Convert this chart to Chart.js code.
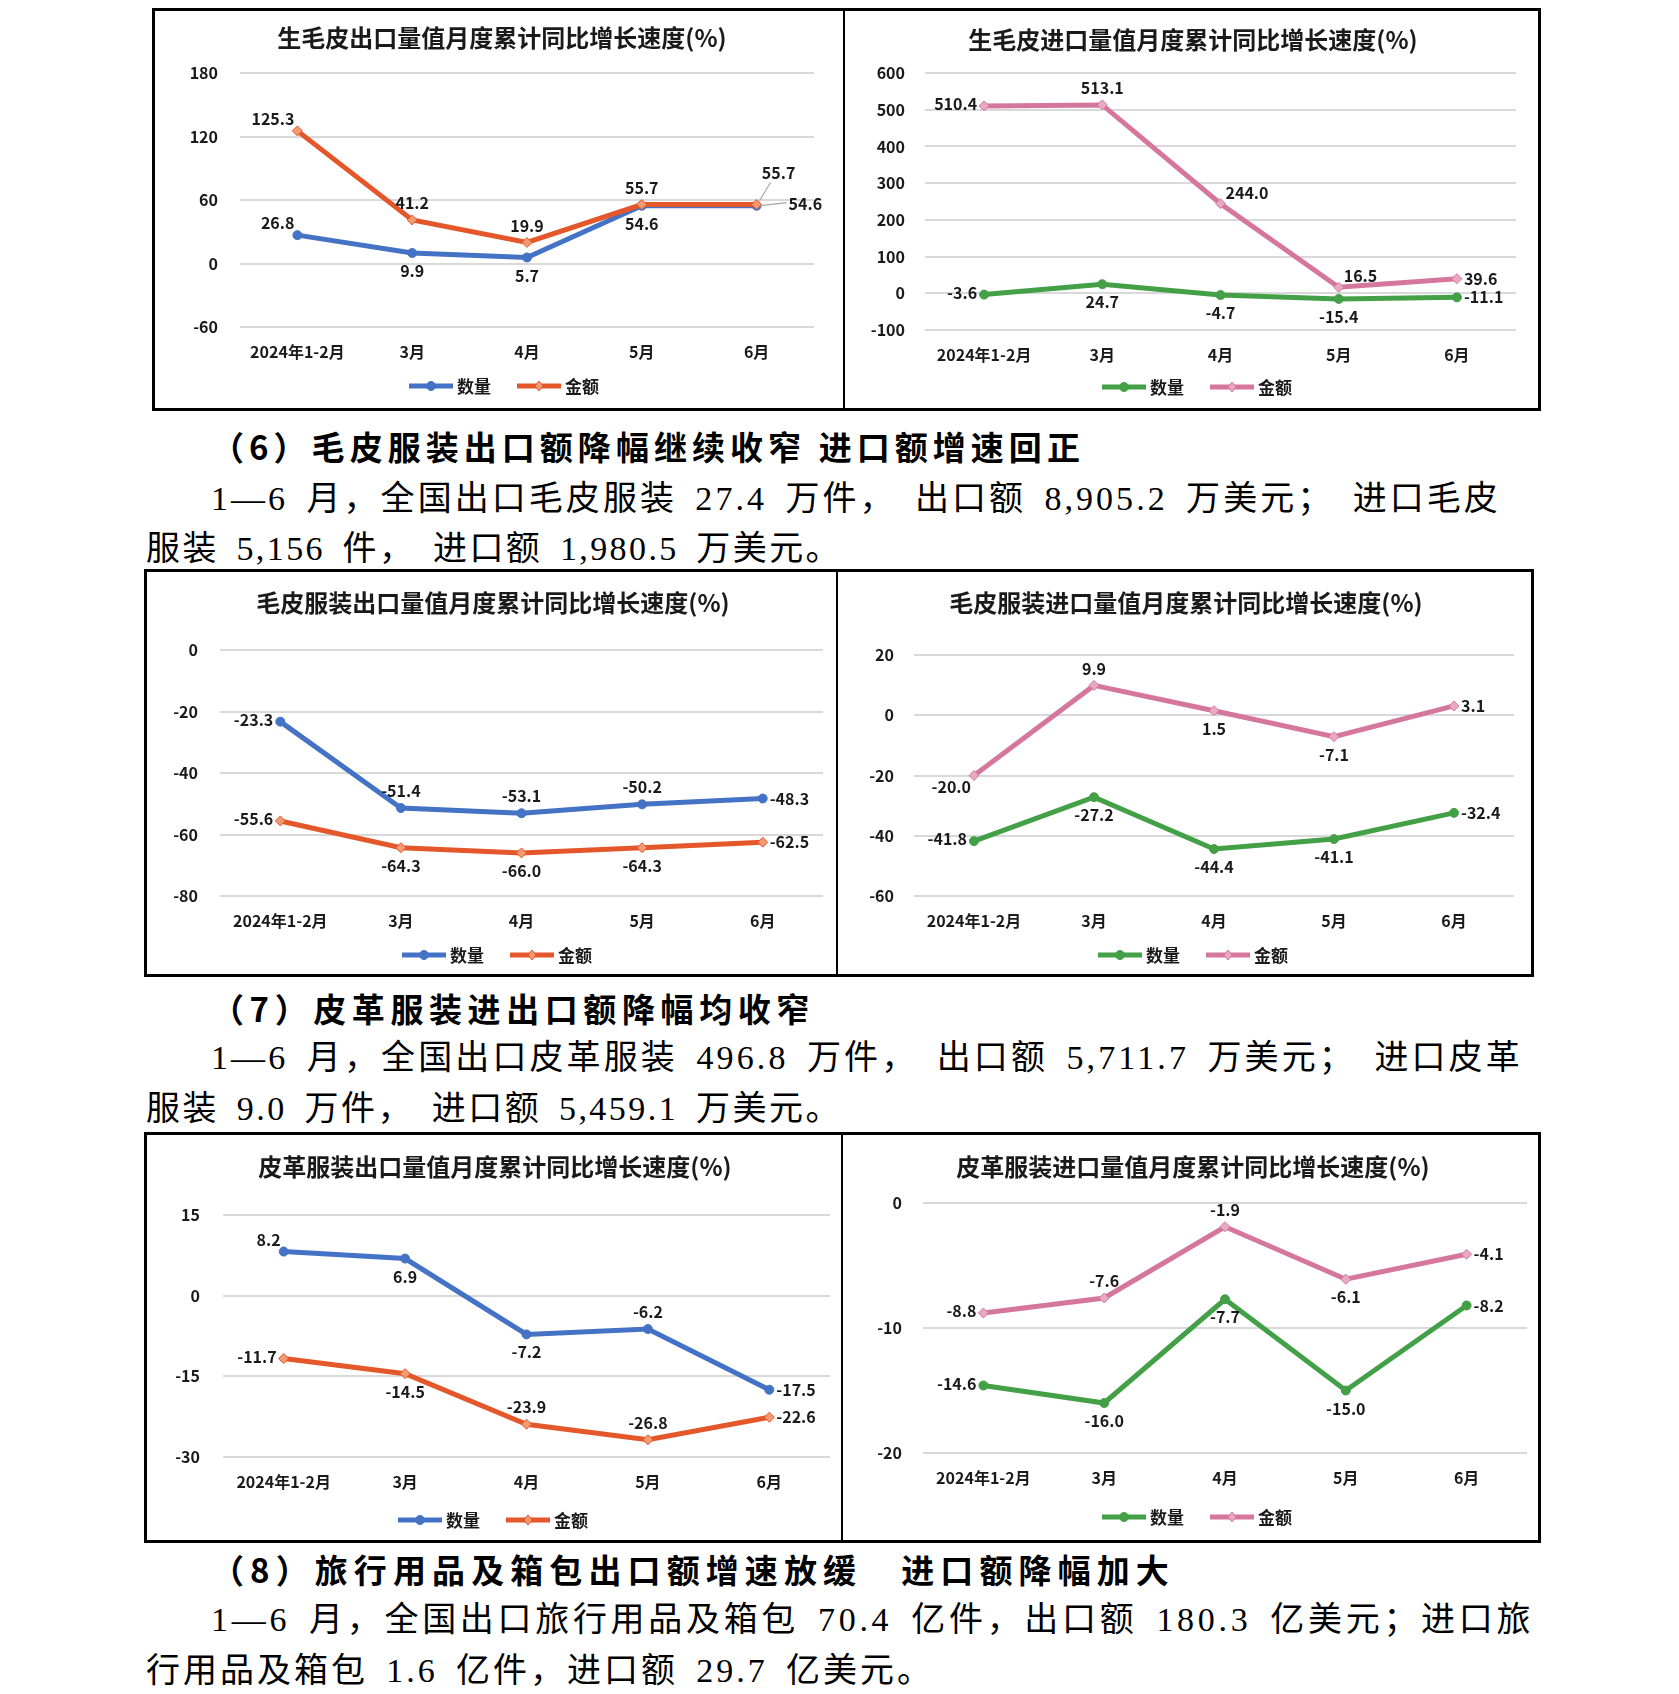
<!DOCTYPE html>
<html lang="zh-CN">
<head>
<meta charset="utf-8">
<title>毛皮及皮革服装进出口同比增长速度</title>
<script src="https://cdn.jsdelivr.net/npm/chart.js@4.4.1/dist/chart.umd.min.js"></script>
<style>
  html, body { margin: 0; padding: 0; background: #fff; }
  body { position: relative; width: 1679px; height: 1694px; overflow: hidden; }
  .box { position: absolute; box-sizing: border-box; border: 3px solid #000; }
  .divider { position: absolute; width: 2px; background: #000; }
  canvas { position: absolute; }
  .line {
    position: absolute; white-space: nowrap; color: #000;
    font-family: "Liberation Serif", "Noto Sans CJK SC", serif;
    font-size: 34px; line-height: 40px; word-spacing: 0.2em;
  }
  .line.head { font-family: "Noto Sans CJK SC", sans-serif; font-weight: 700; font-size: 33px; word-spacing: 0; }
</style>
</head>
<body>

<div class="box" style="left:152px;top:8px;width:1389px;height:403px"></div>
<div class="divider" style="left:843px;top:8px;height:403px"></div>
<div class="box" style="left:144px;top:569px;width:1390px;height:408px"></div>
<div class="divider" style="left:836px;top:569px;height:408px"></div>
<div class="box" style="left:144px;top:1132px;width:1397px;height:411px"></div>
<div class="divider" style="left:841px;top:1132px;height:411px"></div>

<canvas id="c1" width="688" height="397" style="left:155px;top:11px"></canvas>
<canvas id="c2" width="692" height="397" style="left:846px;top:11px"></canvas>
<canvas id="c3" width="689" height="402" style="left:147px;top:572px"></canvas>
<canvas id="c4" width="692" height="402" style="left:839px;top:572px"></canvas>
<canvas id="c5" width="694" height="405" style="left:147px;top:1135px"></canvas>
<canvas id="c6" width="694" height="405" style="left:844px;top:1135px"></canvas>

<div class="line head" data-w="874" style="left:211px;top:426px">（6）毛皮服装出口额降幅继续收窄 进口额增速回正</div>
<div class="line" data-w="1290" style="left:211px;top:479px">1—6 月，全国出口毛皮服装 27.4 万件， 出口额 8,905.2 万美元； 进口毛皮</div>
<div class="line" data-w="696" style="left:146px;top:529px">服装 5,156 件， 进口额 1,980.5 万美元。</div>

<div class="line head" data-w="604" style="left:211px;top:988px">（7）皮革服装进出口额降幅均收窄</div>
<div class="line" data-w="1312" style="left:211px;top:1038px">1—6 月，全国出口皮革服装 496.8 万件， 出口额 5,711.7 万美元； 进口皮革</div>
<div class="line" data-w="696" style="left:146px;top:1089px">服装 9.0 万件， 进口额 5,459.1 万美元。</div>

<div class="line head" data-w="964" style="left:211px;top:1549px">（8）旅行用品及箱包出口额增速放缓　进口额降幅加大</div>
<div class="line" data-w="1323" style="left:211px;top:1600px">1—6 月，全国出口旅行用品及箱包 70.4 亿件，出口额 180.3 亿美元；进口旅</div>
<div class="line" data-w="788" style="left:146px;top:1651px">行用品及箱包 1.6 亿件，进口额 29.7 亿美元。</div>

<script>
// 月份（累计）
const months = ["2024年1-2月", "3月", "4月", "5月", "6月"];
const seriesNames = ["数量", "金额"];

// 生毛皮 出口 / 进口
const rawFurExportQty = [26.8, 9.9, 5.7, 54.6, 54.6];
const rawFurExportVal = [125.3, 41.2, 19.9, 55.7, 55.7];
const rawFurImportQty = [-3.6, 24.7, -4.7, -15.4, -11.1];
const rawFurImportVal = [510.4, 513.1, 244.0, 16.5, 39.6];

// 毛皮服装 出口 / 进口
const furWearExportQty = [-23.3, -51.4, -53.1, -50.2, -48.3];
const furWearExportVal = [-55.6, -64.3, -66.0, -64.3, -62.5];
const furWearImportQty = [-41.8, -27.2, -44.4, -41.1, -32.4];
const furWearImportVal = [-20.0, 9.9, 1.5, -7.1, 3.1];

// 皮革服装 出口 / 进口
const leatherExportQty = [8.2, 6.9, -7.2, -6.2, -17.5];
const leatherExportVal = [-11.7, -14.5, -23.9, -26.8, -22.6];
const leatherImportQty = [-14.6, -16.0, -7.7, -15.0, -8.2];
const leatherImportVal = [-8.8, -7.6, -1.9, -6.1, -4.1];

// y 轴刻度 [min, max, step]
const yRange1 = [-60, 180, 60];
const yRange2 = [-100, 600, 100];
const yRange3 = [-80, 0, 20];
const yRange4 = [-60, 20, 20];
const yRange5 = [-30, 15, 15];
const yRange6 = [-20, 0, 10];

// 正文每行按原文排版宽度撑开字距
document.querySelectorAll(".line").forEach((el) => {
  const target = parseFloat(el.dataset.w);
  const n = [...el.textContent].length;
  el.style.letterSpacing = ((target - el.getBoundingClientRect().width) / n).toFixed(2) + "px";
});

const FONT = '"Noto Sans CJK SC", "Noto Sans", sans-serif';
const BLUE = "#4472C4", ORANGE = "#E4572A", GREEN = "#43A047", PINK = "#D5779D";
const TINT = { [BLUE]: "#4472C4", [ORANGE]: "#F29B73", [GREEN]: "#43A047", [PINK]: "#E8A9C2" };

// 数据标签相对数据点的位置
const LABEL_POS = {
  t:  { dx: 0,  dy: -17, align: "center" },
  b:  { dx: 0,  dy: 18,  align: "center" },
  l:  { dx: -7, dy: -2,  align: "right" },
  r:  { dx: 7,  dy: 0,   align: "left" },
  tl: { dx: -3, dy: -12, align: "right" },
  tr: { dx: 5,  dy: -11, align: "left" },
  bl: { dx: -3, dy: 11,  align: "right" },
  ld: { dx: 22, dy: -32, align: "center", leader: [3, -4, 14, -22] },
  rd: { dx: 32, dy: -2,  align: "left", leader: [4, 0, 30, -3] },
};

const valueLabels = {
  id: "valueLabels",
  afterDatasetsDraw(chart, args, opts) {
    const ctx = chart.ctx;
    ctx.save();
    ctx.font = "bold 16px " + FONT;
    ctx.textBaseline = "middle";
    chart.data.datasets.forEach((ds, i) => {
      const meta = chart.getDatasetMeta(i);
      meta.data.forEach((pt, j) => {
        const p = LABEL_POS[opts.pos[i][j]];
        if (p.leader) {
          ctx.strokeStyle = "#A6A6A6";
          ctx.lineWidth = 1.2;
          ctx.beginPath();
          ctx.moveTo(pt.x + p.leader[0], pt.y + p.leader[1]);
          ctx.lineTo(pt.x + p.leader[2], pt.y + p.leader[3]);
          ctx.stroke();
        }
        ctx.fillStyle = "#1A1A1A";
        ctx.textAlign = p.align;
        ctx.fillText(ds.data[j].toFixed(1), pt.x + p.dx, pt.y + p.dy);
      });
    });
    ctx.restore();
  },
};

// 标题与图例（固定位置）
const frame = {
  id: "frame",
  afterDraw(chart, args, opts) {
    const ctx = chart.ctx;
    ctx.save();
    ctx.fillStyle = "#1A1A1A";
    ctx.textAlign = "center";
    ctx.textBaseline = "middle";
    ctx.font = "bold 24px " + FONT;
    ctx.fillText(opts.title, opts.titleX, opts.titleY);

    ctx.font = "bold 17px " + FONT;
    const sample = 44, gap = 4, between = 26;
    const items = chart.data.datasets.map((ds) => ({ ds, w: sample + gap + ctx.measureText(ds.label).width }));
    const total = items.reduce((s, it) => s + it.w, 0) + between * (items.length - 1);
    let x = opts.legendX - total / 2;
    const y = opts.legendY;
    items.forEach(({ ds, w }) => {
      ctx.strokeStyle = ds.borderColor;
      ctx.lineWidth = 5;
      ctx.beginPath();
      ctx.moveTo(x, y);
      ctx.lineTo(x + sample, y);
      ctx.stroke();
      ctx.fillStyle = ds.pointBackgroundColor;
      ctx.strokeStyle = ds.borderColor;
      ctx.lineWidth = 1;
      const cx = x + sample / 2;
      ctx.beginPath();
      if (ds.pointStyle === "circle") {
        ctx.arc(cx, y, 4.5, 0, Math.PI * 2);
      } else {
        ctx.moveTo(cx, y - 5); ctx.lineTo(cx + 4, y); ctx.lineTo(cx, y + 5); ctx.lineTo(cx - 4, y); ctx.closePath();
      }
      ctx.fill();
      ctx.stroke();
      ctx.fillStyle = "#1A1A1A";
      ctx.textAlign = "left";
      ctx.fillText(ds.label, x + sample + gap, y + 1);
      x += w + between;
    });
    ctx.restore();
  },
};

function series(label, data, color, style, order) {
  return {
    label, data, order,
    borderColor: color,
    backgroundColor: color,
    borderWidth: 5,
    pointStyle: style,
    pointRadius: style === "circle" ? 4.5 : 5,
    pointBackgroundColor: TINT[color],
    pointBorderColor: color,
    pointBorderWidth: 1,
    tension: 0,
  };
}

function makeChart(id, box, plot, yPad, yRange, title, tpos, lpos, qty, val, qColor, vColor, pos) {
  const cv = document.getElementById(id);
  const xH = 40;
  new Chart(cv, {
    type: "line",
    data: {
      labels: months,
      datasets: [
        series(seriesNames[0], qty, qColor, "circle", 1),
        series(seriesNames[1], val, vColor, "rectRot", 0),
      ],
    },
    options: {
      responsive: false,
      animation: false,
      layout: {
        autoPadding: false,
        padding: {
          left: 0,
          top: plot.t - box.y,
          right: box.x + box.w - plot.r,
          bottom: box.y + box.h - plot.b - xH,
        },
      },
      plugins: {
        legend: { display: false },
        title: { display: false },
        tooltip: { enabled: false },
        valueLabels: { pos },
        frame: {
          title,
          titleX: tpos[0] - box.x, titleY: tpos[1] - box.y,
          legendX: lpos[0] - box.x, legendY: lpos[1] - box.y,
        },
      },
      scales: {
        x: {
          offset: true,
          grid: { display: false, drawTicks: false },
          border: { display: false },
          ticks: { color: "#1A1A1A", font: { family: FONT, size: 16, weight: "bold" }, padding: 15, maxRotation: 0, autoSkip: false },
          afterFit: (s) => { s.height = xH; },
        },
        y: {
          min: yRange[0], max: yRange[1],
          ticks: { stepSize: yRange[2], color: "#1A1A1A", font: { family: FONT, size: 16, weight: "bold" }, padding: yPad },
          grid: { color: "#D9D9D9", lineWidth: 2, drawTicks: false },
          border: { display: false },
          afterFit: (s) => { s.width = plot.l - box.x; },
        },
      },
    },
    plugins: [valueLabels, frame],
  });
}

makeChart("c1", { x: 155, y: 11, w: 688, h: 397 }, { l: 240, t: 73, r: 814, b: 327 }, 22, yRange1,
  "生毛皮出口量值月度累计同比增长速度(%)", [502, 38], [504, 386],
  rawFurExportQty, rawFurExportVal, BLUE, ORANGE,
  [["tl", "b", "b", "b", "rd"], ["tl", "t", "t", "t", "ld"]]);

makeChart("c2", { x: 846, y: 11, w: 692, h: 397 }, { l: 925, t: 73, r: 1516, b: 330 }, 20, yRange2,
  "生毛皮进口量值月度累计同比增长速度(%)", [1193, 40], [1197, 387],
  rawFurImportQty, rawFurImportVal, GREEN, PINK,
  [["l", "b", "b", "b", "r"], ["l", "t", "tr", "tr", "r"]]);

makeChart("c3", { x: 147, y: 572, w: 689, h: 402 }, { l: 220, t: 650, r: 823, b: 896 }, 22, yRange3,
  "毛皮服装出口量值月度累计同比增长速度(%)", [493, 603], [497, 955],
  furWearExportQty, furWearExportVal, BLUE, ORANGE,
  [["l", "t", "t", "t", "r"], ["l", "b", "b", "b", "r"]]);

makeChart("c4", { x: 839, y: 572, w: 692, h: 402 }, { l: 914, t: 655, r: 1514, b: 896 }, 20, yRange4,
  "毛皮服装进口量值月度累计同比增长速度(%)", [1186, 603], [1193, 955],
  furWearImportQty, furWearImportVal, GREEN, PINK,
  [["l", "b", "b", "b", "r"], ["bl", "t", "b", "b", "r"]]);

makeChart("c5", { x: 147, y: 1135, w: 694, h: 405 }, { l: 223, t: 1215, r: 830, b: 1457 }, 23, yRange5,
  "皮革服装出口量值月度累计同比增长速度(%)", [495, 1167], [493, 1520],
  leatherExportQty, leatherExportVal, BLUE, ORANGE,
  [["tl", "b", "b", "t", "r"], ["l", "b", "t", "t", "r"]]);

makeChart("c6", { x: 844, y: 1135, w: 694, h: 405 }, { l: 923, t: 1203, r: 1527, b: 1453 }, 21, yRange6,
  "皮革服装进口量值月度累计同比增长速度(%)", [1193, 1167], [1197, 1517],
  leatherImportQty, leatherImportVal, GREEN, PINK,
  [["l", "b", "b", "b", "r"], ["l", "t", "t", "b", "r"]]);
</script>
</body>
</html>
